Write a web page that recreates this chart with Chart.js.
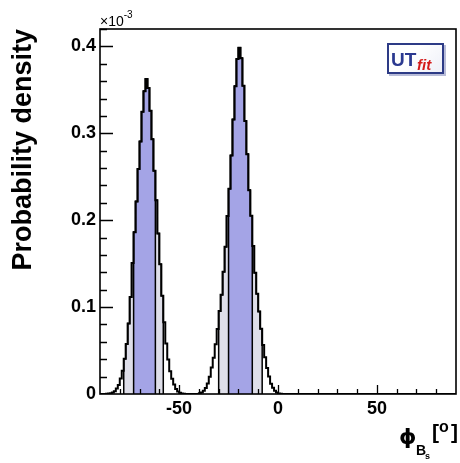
<!DOCTYPE html>
<html>
<head>
<meta charset="utf-8">
<script src="https://cdn.jsdelivr.net/npm/chart.js@4.4.1/dist/chart.umd.min.js"></script>
<style>
    html, body { margin: 0; padding: 0; background: #fff; }
    #wrap { position: relative; width: 460px; height: 463px; overflow: hidden; }
    #chart { position: absolute; left: 0; top: 0; }
    .txt { position: absolute; font-family: "Liberation Sans", Arial, sans-serif; color: #000; white-space: nowrap; line-height: 1; font-weight: bold; }
    #expo { left: 100px; top: 12px; font-size: 14px; font-weight: normal; }
    #expo sup { font-size: 10px; position: relative; top: -2px; }
    #phi { left: 399px; top: 426px; font-size: 22px; font-family: "DejaVu Sans", sans-serif; }
    #subB { left: 416px; top: 443px; font-size: 14px; }
    #subS { left: 425px; top: 452px; font-size: 9px; }
    #brL { left: 432px; top: 421px; font-size: 21px; }
    #deg { left: 439px; top: 419px; font-size: 16px; }
    #brR { left: 451px; top: 421px; font-size: 21px; }
    #logo { position: absolute; left: 387px; top: 43px; width: 53px; height: 27px;
            border: 2px solid #2d3b86; background: linear-gradient(135deg, #ffffff 40%, #eef0f8);
            box-shadow: 2px 2px 0 #b8bcd8; }
    #logo .ut { position: absolute; left: 2px; top: 4px; font: bold 19px "Liberation Sans", Arial, sans-serif; color: #2b3990; }
    #logo .fit { position: absolute; left: 28px; top: 11px; font: italic bold 15px "Liberation Sans", Arial, sans-serif; color: #d41a1a; }
</style>
</head>
<body>
<div id="wrap">
    <canvas id="chart" width="460" height="463"></canvas>
    <div class="txt" id="expo">&times;10<sup>-3</sup></div>
    <div class="txt" id="phi">&#981;</div>
    <div class="txt" id="subB">B</div>
    <div class="txt" id="subS">s</div>
    <div class="txt" id="brL">[</div>
    <div class="txt" id="deg">o</div>
    <div class="txt" id="brR">]</div>
    <div id="logo"><span class="ut">UT</span><span class="fit">fit</span></div>
</div>
<script>
// histogram of phi_Bs, 1 degree bins starting at firstBin (values in units of 1e-3)
const firstBin = -88;
const binWidth = 1;
const density = [
    0.0001, 0.0003, 0.0005, 0.0010, 0.0018, 0.0032, 0.0062, 0.0105, 0.0178, 0.0268,
    0.0405, 0.0575, 0.0812, 0.1115, 0.1508, 0.1862, 0.2215, 0.2590, 0.2905, 0.3248,
    0.3485, 0.3625, 0.3522, 0.3260, 0.2932, 0.2568, 0.2230, 0.1848, 0.1492, 0.1130,
    0.0826, 0.0582, 0.0398, 0.0262, 0.0175, 0.0108, 0.0058, 0.0030, 0.0014, 0.0006,
    0.0002,
    0, 0, 0, 0, 0, 0, 0,
    0.0008, 0.0018, 0.0038, 0.0068, 0.0122, 0.0198, 0.0305, 0.0418, 0.0572, 0.0748,
    0.0955, 0.1142, 0.1408, 0.1695, 0.2048, 0.2362, 0.2745, 0.3158, 0.3542, 0.3855,
    0.3985, 0.3862, 0.3548, 0.3142, 0.2758, 0.2345, 0.2052, 0.1702, 0.1395, 0.1155,
    0.0948, 0.0752, 0.0565, 0.0422, 0.0298, 0.0202, 0.0118, 0.0072, 0.0036, 0.0017,
    0.0007, 0.0002
];
// probability regions (68% and 95%)
const inner68 = [[-73, -62], [-25, -13]];
const outer95 = [[-78, -58], [-30, -8]];

const xMin = -90, xMax = 90;
const yMin = 0, yMax = 0.42;
const xStep = 10, xLabelEvery = 50;
const yStep = 0.02, yLabelEvery = 5;

const darkFill = '#a4a4e6';
const lightFill = '#dedee9';
const fontFamily = '"Liberation Sans", Arial, sans-serif';

const binLows = density.map((v, i) => firstBin + i * binWidth);

function outlinePoints() {
    const pts = [{x: xMin, y: 0}];
    binLows.forEach((b, i) => pts.push({x: b, y: density[i]}));
    const last = binLows[binLows.length - 1] + binWidth;
    pts.push({x: last, y: 0}, {x: xMax, y: 0});
    return pts;
}

function regionPoints(lo, hi) {
    const pts = [{x: lo, y: 0}];
    binLows.forEach((b, i) => {
        if (b >= lo && b < hi) pts.push({x: b, y: density[i]});
    });
    pts.push({x: hi, y: pts[pts.length - 1].y}, {x: hi, y: 0});
    return pts;
}

function regionDataset(range, color) {
    return {
        data: regionPoints(range[0], range[1]),
        stepped: 'before',
        fill: 'origin',
        backgroundColor: color,
        borderColor: '#000',
        borderWidth: 1.5,
        pointRadius: 0,
    };
}

// first dataset ends up on top, so outline first, then 68%, then 95%
const datasets = [{
    data: outlinePoints(),
    stepped: 'before',
    fill: false,
    borderColor: '#000',
    borderWidth: 2,
    pointRadius: 0,
}];
inner68.forEach((r) => datasets.push(regionDataset(r, darkFill)));
outer95.forEach((r) => datasets.push(regionDataset(r, lightFill)));

// root style: ticks inside the frame, frame all round
const frameAndTicks = {
    id: 'frameAndTicks',
    afterDatasetsDraw(chart) {
        const {ctx, chartArea, scales} = chart;
        ctx.save();
        ctx.strokeStyle = '#000';
        ctx.lineWidth = 1.3;
        ctx.beginPath();
        scales.x.ticks.forEach((t) => {
            if (t.value <= xMin || t.value >= xMax) return;
            const px = Math.round(scales.x.getPixelForValue(t.value)) + 0.5;
            const len = t.value % xLabelEvery === 0 ? 9 : 5;
            ctx.moveTo(px, chartArea.bottom);
            ctx.lineTo(px, chartArea.bottom - len);
        });
        scales.y.ticks.forEach((t) => {
            const idx = Math.round(t.value / yStep);
            if (idx <= 0) return;
            const py = Math.round(scales.y.getPixelForValue(t.value)) + 0.5;
            const len = idx % yLabelEvery === 0 ? 13 : 7;
            ctx.moveTo(chartArea.left, py);
            ctx.lineTo(chartArea.left + len, py);
        });
        ctx.stroke();
        ctx.lineWidth = 1.6;
        ctx.strokeRect(chartArea.left, chartArea.top, chartArea.right - chartArea.left, chartArea.bottom - chartArea.top);
        ctx.restore();
    }
};

new Chart(document.getElementById('chart'), {
    type: 'line',
    data: { datasets: datasets },
    options: {
        responsive: false,
        animation: false,
        devicePixelRatio: 1,
        layout: { padding: { top: 29, right: 1, left: 0, bottom: 0 } },
        plugins: { legend: { display: false }, tooltip: { enabled: false } },
        scales: {
            x: {
                type: 'linear',
                min: xMin,
                max: xMax,
                grid: { display: false, drawTicks: false },
                border: { display: false },
                afterFit: (scale) => { scale.height = 69; },
                ticks: {
                    stepSize: xStep,
                    autoSkip: false,
                    maxRotation: 0,
                    padding: 4,
                    color: '#000',
                    font: { family: fontFamily, size: 18, weight: 'bold', lineHeight: 1.2 },
                    callback: (v) => (v % xLabelEvery === 0 && v > xMin && v < xMax ? String(v) : ''),
                },
            },
            y: {
                type: 'linear',
                min: yMin,
                max: yMax,
                grid: { display: false, drawTicks: false },
                border: { display: false },
                afterFit: (scale) => { scale.width = 100; },
                title: {
                    display: true,
                    text: 'Probability density',
                    align: 'end',
                    color: '#000',
                    padding: { top: 7 },
                    font: { family: fontFamily, size: 27, weight: 'bold', lineHeight: 1.2 },
                },
                ticks: {
                    stepSize: yStep,
                    autoSkip: false,
                    padding: 4,
                    color: '#000',
                    font: { family: fontFamily, size: 18, weight: 'bold', lineHeight: 1.2 },
                    callback: (v) => {
                        const idx = Math.round(v / yStep);
                        if (idx % yLabelEvery !== 0) return '';
                        return idx === 0 ? '0' : (idx * yStep).toFixed(1);
                    },
                },
            },
        },
    },
    plugins: [frameAndTicks],
});
</script>
</body>
</html>
